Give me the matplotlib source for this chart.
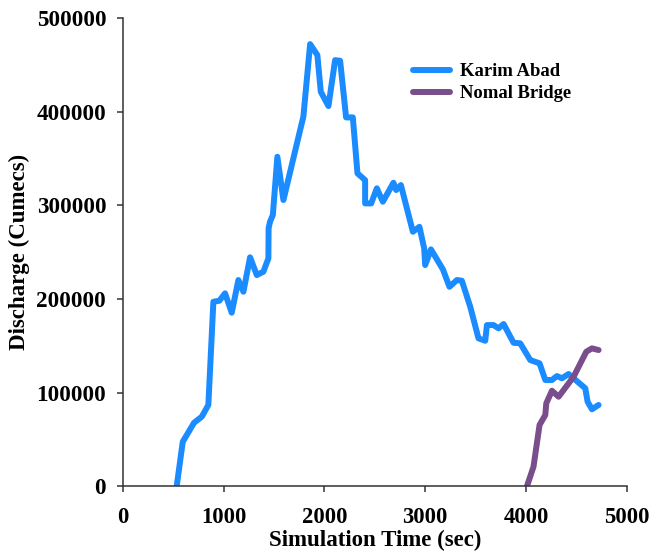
import matplotlib
matplotlib.use("Agg")
import matplotlib.pyplot as plt

# Karim Abad series
karim_time = [534, 594, 706, 783, 848, 898, 957, 1014, 1080, 1146, 1196, 1262, 1329, 1394,
              1444, 1446, 1460, 1488, 1533, 1593, 1759, 1791, 1858, 1930, 1964, 2040, 2106,
              2156, 2215, 2282, 2328, 2404, 2404, 2464, 2520, 2580, 2685, 2712, 2759, 2878,
              2943, 2990, 3000, 3057, 3176, 3241, 3315, 3364, 3447, 3529, 3596, 3613, 3678,
              3728, 3778, 3877, 3943, 4043, 4135, 4192, 4258, 4308, 4357, 4423, 4589, 4612,
              4655, 4721]
karim_q = [0, 47500, 67800, 74300, 86800, 197100, 198200, 206100, 185400, 220300, 207800,
           244600, 225600, 229200, 243500, 275500, 282600, 289700, 352000, 305800, 380600,
           394800, 472400, 460700, 421500, 406200, 455300, 454600, 394100, 394100, 334300,
           327100, 302200, 302200, 318300, 304000, 324300, 316500, 321800, 271900, 277200,
           254200, 236300, 253100, 231700, 213100, 220300, 219600, 191800, 158000, 155400,
           172200, 172200, 168700, 173300, 153300, 152700, 134800, 131300, 113500, 113500,
           117700, 115300, 119900, 104600, 90300, 82200, 86800]

# Nomal Bridge series
nomal_time = [4010, 4075, 4135, 4192, 4202, 4258, 4324, 4473, 4599, 4655, 4721]
nomal_q = [0, 20800, 65400, 76100, 88600, 102000, 95600, 117000, 143700, 147300, 145500]

series_labels = ["Karim Abad", "Nomal Bridge"]
x_ticks = [0, 1000, 2000, 3000, 4000, 5000]
y_ticks = [0, 100000, 200000, 300000, 400000, 500000]
x_label = "Simulation Time (sec)"
y_label = "Discharge (Cumecs)"

plt.rcParams["font.family"] = ["Liberation Serif", "DejaVu Serif"]
plt.rcParams["font.weight"] = "bold"

fig = plt.figure(figsize=(6.51, 5.52), dpi=100)
ax = fig.add_axes([122.9 / 651, 1 - 486.2 / 552, (626.7 - 122.9) / 651, (486.2 - 18.3) / 552])

ax.plot(karim_time, karim_q, color="#1A8CFF", lw=4.3, solid_joinstyle="round",
        solid_capstyle="round", label=series_labels[0])
ax.plot(nomal_time, nomal_q, color="#7A4D8C", lw=4.3, solid_joinstyle="round",
        solid_capstyle="round", label=series_labels[1])

ax.set_xlim(0, 5000)
ax.set_ylim(0, 500000)
ax.set_xticks(x_ticks)
ax.set_yticks(y_ticks)
ax.set_xticklabels([str(v) for v in x_ticks], fontsize=16.3, fontweight="bold")
ax.set_yticklabels([str(v) for v in y_ticks], fontsize=16.7, fontweight="bold")
ax.tick_params(direction="out", length=4, width=1.1, color="#333333")
ax.tick_params(axis="x", pad=11)
ax.tick_params(axis="y", pad=8)

for s in ["top", "right"]:
    ax.spines[s].set_visible(False)
for s in ["left", "bottom"]:
    ax.spines[s].set_color("#333333")
    ax.spines[s].set_linewidth(1.1)

ax.set_xlabel(x_label, fontsize=16.5, fontweight="bold", labelpad=1)
ax.set_ylabel(y_label, fontsize=16.5, fontweight="bold", labelpad=5)

leg = fig.legend(loc="upper left", bbox_to_anchor=(413 / 651, 1 - 63 / 552),
                 frameon=False, fontsize=13.4, borderpad=0, handlelength=2.0,
                 handletextpad=0.5, labelspacing=0.28, borderaxespad=0)
for t in leg.get_texts():
    t.set_fontweight("bold")

fig.savefig("out.png", dpi=100)
